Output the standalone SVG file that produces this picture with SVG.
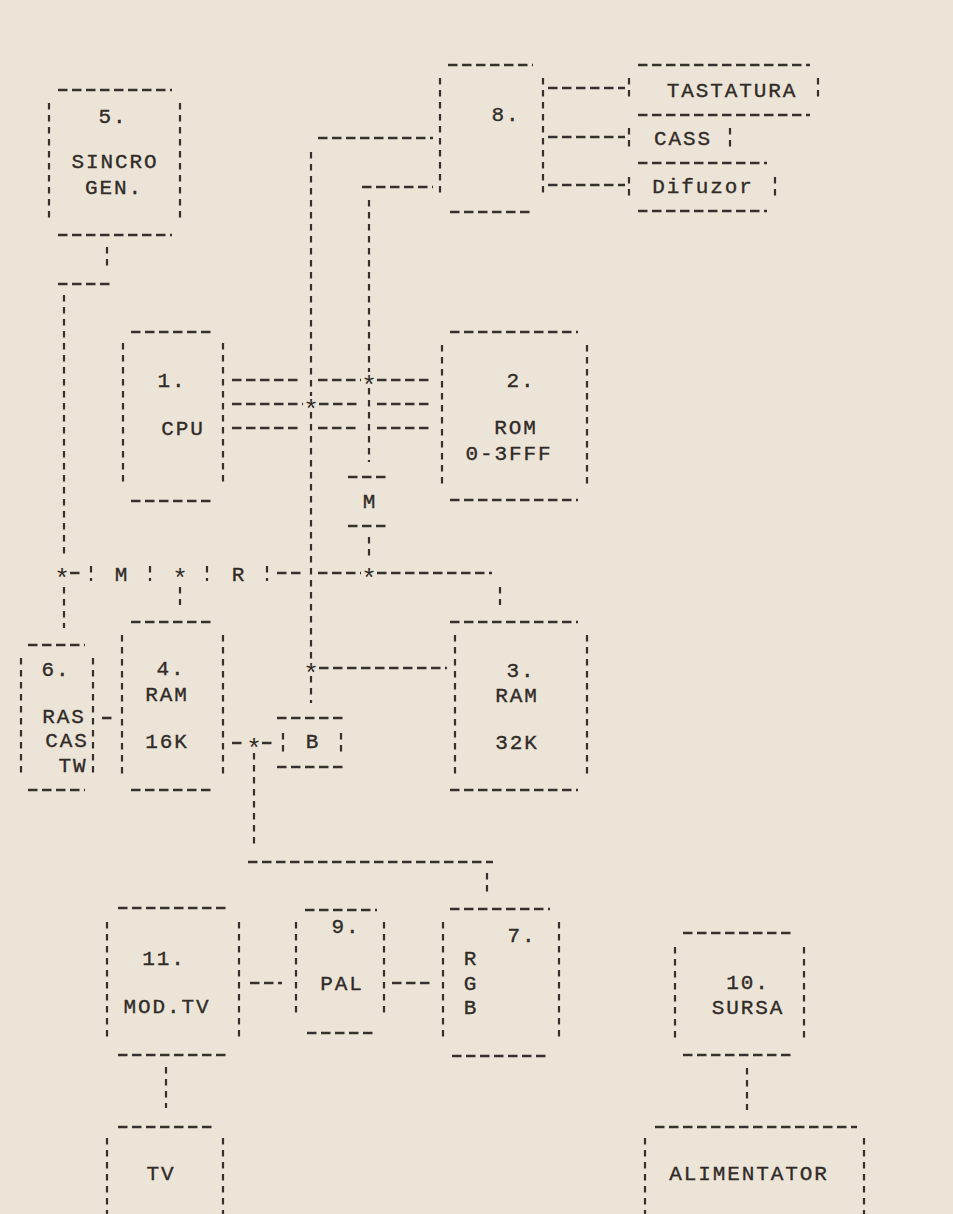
<svg xmlns="http://www.w3.org/2000/svg" width="953" height="1214" viewBox="0 0 953 1214">
<style>
.h{stroke:#36312c;stroke-width:2.6;stroke-dasharray:9.5 4.5;fill:none}
.v{stroke:#36312c;stroke-width:2.2;stroke-dasharray:6.5 5.5;fill:none}
.t{font-family:"Liberation Mono","DejaVu Sans Mono",monospace;font-size:21px;letter-spacing:1.9px;fill:#302b27;stroke:#302b27;stroke-width:0.35;text-anchor:middle}
.a{font-family:"Liberation Mono","DejaVu Sans Mono",monospace;font-size:26px;fill:#302b27;text-anchor:middle}
</style>
<rect width="953" height="1214" fill="#ece4d7"/>
<g id="sincro-gen">
<path class="h" d="M58 90H172M58 235H172"/>
<path class="v" d="M49 103V220M180 103V220"/>
<text class="t" x="113" y="123">5.</text>
<text class="t" x="115" y="168">SINCRO</text>
<text class="t" x="114" y="194">GEN.</text>
</g>
<g id="block8">
<path class="h" d="M448 65H533M450 212H533"/>
<path class="v" d="M440 78V197M543 78V197"/>
<text class="t" x="506" y="121">8.</text>
</g>
<g id="tastatura">
<path class="h" d="M638 65H810M638 115H810"/>
<path class="v" d="M818 78V98"/>
<text class="t" x="732" y="97">TASTATURA</text>
</g>
<g id="cass">
<path class="h" d="M638 163H767"/>
<path class="v" d="M730 128V148"/>
<text class="t" x="683" y="145">CASS</text>
</g>
<g id="difuzor">
<path class="h" d="M638 211H767"/>
<path class="v" d="M775 177V197"/>
<text class="t" x="703" y="193">Difuzor</text>
</g>
<g id="cpu">
<path class="h" d="M131 332H215M131 501H215"/>
<path class="v" d="M123 343V485M223 343V485"/>
<text class="t" x="172" y="387">1.</text>
<text class="t" x="183" y="435">CPU</text>
</g>
<g id="rom">
<path class="h" d="M450 332H578M450 500H578"/>
<path class="v" d="M442 345V485M587 345V485"/>
<text class="t" x="521" y="387">2.</text>
<text class="t" x="516" y="434">ROM</text>
<text class="t" x="509" y="460">0-3FFF</text>
</g>
<g id="m-block">
<path class="h" d="M348 477H390M348 526H390"/>
<text class="t" x="370" y="508">M</text>
</g>
<g id="bus-m">
<path class="v" d="M91 566V581M150 566V581"/>
<text class="t" x="122" y="581">M</text>
</g>
<g id="bus-r">
<path class="v" d="M207 566V581M267 566V581"/>
<text class="t" x="239" y="581">R</text>
</g>
<g id="ras-cas">
<path class="h" d="M28 645H85M28 790H85"/>
<path class="v" d="M21 658V775M93 658V775"/>
<text class="t" x="56" y="676">6.</text>
<text class="t" x="64" y="723">RAS</text>
<text class="t" x="67" y="747">CAS</text>
<text class="t" x="73" y="772">TW</text>
</g>
<g id="ram16k">
<path class="h" d="M131 622H215M131 790H215"/>
<path class="v" d="M122 635V775M223 635V775"/>
<text class="t" x="171" y="675">4.</text>
<text class="t" x="167" y="701">RAM</text>
<text class="t" x="167" y="748">16K</text>
</g>
<g id="ram32k">
<path class="h" d="M450 622H578M450 790H578"/>
<path class="v" d="M455 635V775M587 635V775"/>
<text class="t" x="521" y="677">3.</text>
<text class="t" x="517" y="702">RAM</text>
<text class="t" x="517" y="749">32K</text>
</g>
<g id="b-block">
<path class="h" d="M277 718H345M277 767H345"/>
<path class="v" d="M283 733V752M341 733V752"/>
<text class="t" x="313" y="748">B</text>
</g>
<g id="modtv">
<path class="h" d="M118 908H230M118 1055H230"/>
<path class="v" d="M107 922V1040M239 922V1040"/>
<text class="t" x="164" y="965">11.</text>
<text class="t" x="167" y="1013">MOD.TV</text>
</g>
<g id="pal">
<path class="h" d="M305 910H377M307 1033H373"/>
<path class="v" d="M296 922V1018M384 922V1018"/>
<text class="t" x="346" y="933">9.</text>
<text class="t" x="342" y="990">PAL</text>
</g>
<g id="rgb">
<path class="h" d="M450 909H550M452 1056H550"/>
<path class="v" d="M443 922V1040M559 922V1040"/>
<text class="t" x="522" y="942">7.</text>
<text class="t" x="471" y="965">R</text>
<text class="t" x="471" y="990">G</text>
<text class="t" x="471" y="1014">B</text>
</g>
<g id="sursa">
<path class="h" d="M683 933H795M683 1055H795"/>
<path class="v" d="M675 947V1038M804 947V1038"/>
<text class="t" x="748" y="989">10.</text>
<text class="t" x="748" y="1014">SURSA</text>
</g>
<g id="tv">
<path class="h" d="M118 1127H213"/>
<path class="v" d="M107 1138V1214M223 1138V1214"/>
<text class="t" x="161" y="1180">TV</text>
</g>
<g id="alimentator">
<path class="h" d="M655 1127H857"/>
<path class="v" d="M645 1138V1214M864 1138V1214"/>
<text class="t" x="749" y="1180">ALIMENTATOR</text>
</g>
<g id="connectors">
<path class="h" d="M58 284H113"/>
<path class="v" d="M107 247V268"/>
<path class="v" d="M64 295V558M64 587V628"/>
<path class="h" d="M548 88H625M548 137H625M548 185H625"/>
<path class="v" d="M629 78V98M629 128V148M629 177V197"/>
<path class="h" d="M318 138H433M362 187H433"/>
<path class="v" d="M311 152V396M311 412V660M311 676V703"/>
<path class="v" d="M369 200V372M369 388V462M369 537V558"/>
<path class="h" d="M232 380H302M318 380H361M377 380H433"/>
<path class="h" d="M232 404H303M319 404H360M377 404H433"/>
<path class="h" d="M232 428H302M318 428H360M377 428H433"/>
<path class="h" d="M70 573H82M277 573H302M318 573H361M377 573H492"/>
<path class="v" d="M180 587V605M500 587V605"/>
<path class="h" d="M102 718H113"/>
<path class="h" d="M319 668H447"/>
<path class="h" d="M232 743H246M262 743H273"/>
<path class="v" d="M254 753V847"/>
<path class="h" d="M248 862H493"/>
<path class="v" d="M487 873V895"/>
<path class="h" d="M250 983H282M392 983H430"/>
<path class="v" d="M166 1067V1108M747 1068V1110"/>
<text class="a" x="369" y="394">*</text>
<text class="a" x="311" y="418">*</text>
<text class="a" x="62" y="587">*</text>
<text class="a" x="180" y="587">*</text>
<text class="a" x="369" y="587">*</text>
<text class="a" x="311" y="682">*</text>
<text class="a" x="254" y="757">*</text>
</g>
</svg>
